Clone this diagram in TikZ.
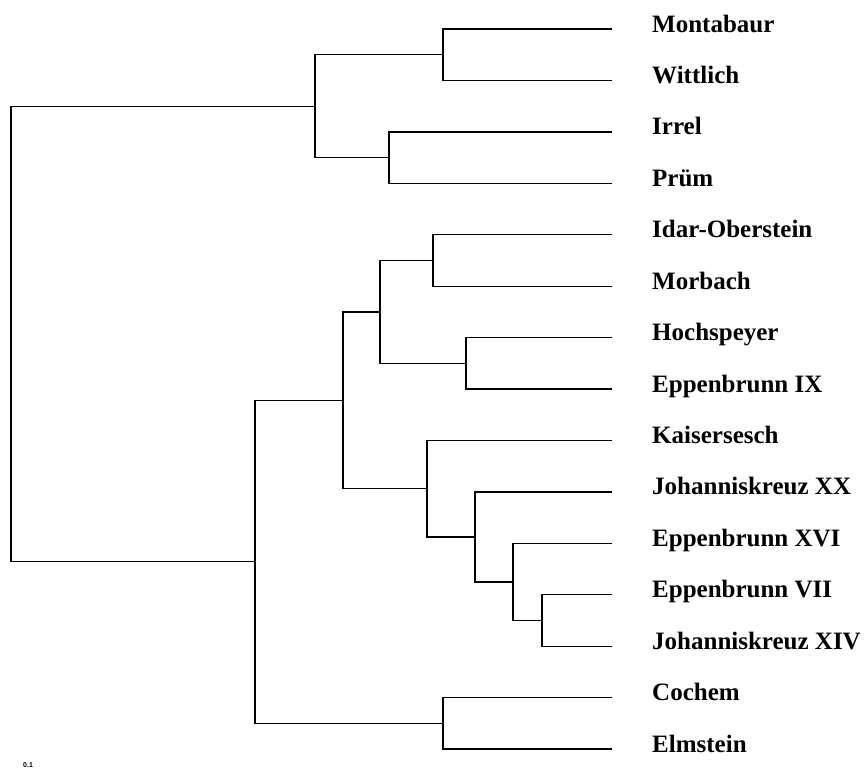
\documentclass[tikz,border=0pt]{standalone}
\usepackage{fontspec}
\setmainfont{Liberation Serif}
\setsansfont{Liberation Sans}
\usetikzlibrary{positioning}
\tikzset{branch/.style={line width=1.3pt},
         taxon/.style={anchor=base west, inner sep=0pt, font=\fontsize{25}{30}\selectfont\bfseries}}

\begin{document}
\begin{tikzpicture}[x=1pt,y=-1pt] % 15 taxa
      \useasboundingbox (0,0) rectangle (867,772);
      \foreach \name/\txt [count=\i from 0] in {mont/Montabaur, witt/Wittlich, irre/Irrel, prue/Prüm,
            idar/Idar-Oberstein, morb/Morbach, hoch/Hochspeyer, epix/Eppenbrunn IX,
            kais/Kaisersesch, jxx/Johanniskreuz XX, epxvi/Eppenbrunn XVI, epvii/Eppenbrunn VII,
            jxiv/Johanniskreuz XIV, coch/Cochem, elms/Elmstein}{
        \coordinate (\name) at (612,29+51.43*\i);
        \node[taxon] (\name-lab) at (652,32+51.43*\i) {\txt};
      }
      \coordinate (mw) at (443,54.7);
      \coordinate (ip) at (389,157.6);
      \coordinate (top) at (315,106.2);
      \coordinate (im) at (433,260.4);
      \coordinate (he) at (466,363.3);
      \coordinate (ih) at (380,311.9);
      \coordinate (vj) at (542,620.4);
      \coordinate (xvi) at (513,581.9);
      \coordinate (jxxk) at (475,536.9);
      \coordinate (kai) at (427,488.6);
      \coordinate (mid) at (343,400.3);
      \coordinate (ce) at (443,723.3);
      \coordinate (bot) at (255,561.8);
      \coordinate (root) at (11,334);
      \draw[branch] (mw) |- (mont);   \draw[branch] (mw) |- (witt);
      \draw[branch] (ip) |- (irre);   \draw[branch] (ip) |- (prue);
      \draw[branch] (top) |- (mw);    \draw[branch] (top) |- (ip);
      \draw[branch] (im) |- (idar);   \draw[branch] (im) |- (morb);
      \draw[branch] (he) |- (hoch);   \draw[branch] (he) |- (epix);
      \draw[branch] (ih) |- (im);     \draw[branch] (ih) |- (he);
      \draw[branch] (vj) |- (epvii);  \draw[branch] (vj) |- (jxiv);
      \draw[branch] (xvi) |- (epxvi); \draw[branch] (xvi) |- (vj);
      \draw[branch] (jxxk) |- (jxx);  \draw[branch] (jxxk) |- (xvi);
      \draw[branch] (kai) |- (kais);  \draw[branch] (kai) |- (jxxk);
      \draw[branch] (mid) |- (ih);    \draw[branch] (mid) |- (kai);
      \draw[branch] (ce) |- (coch);   \draw[branch] (ce) |- (elms);
      \draw[branch] (bot) |- (mid);   \draw[branch] (bot) |- (ce);
      \draw[branch] (root) |- (top);  \draw[branch] (root) |- (bot);
      \node[anchor=base west, inner sep=0pt, font=\sffamily\bfseries\fontsize{7}{8}\selectfont] (scale) at (23,767) {0.1};
   \end{tikzpicture}
\end{document}
